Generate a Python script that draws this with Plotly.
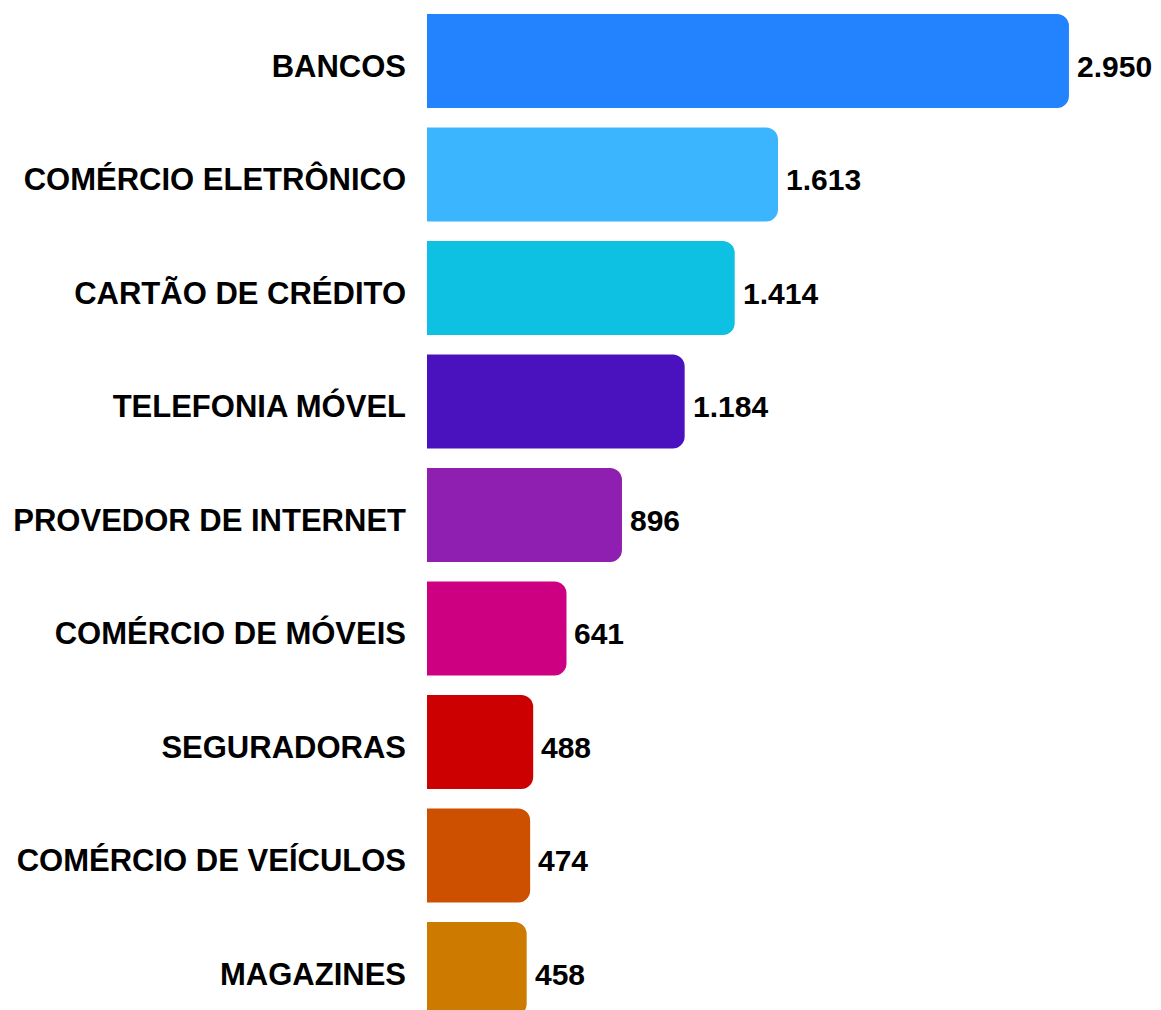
import plotly.graph_objects as go

# Dados
categorias = ['BANCOS', 'COMÉRCIO ELETRÔNICO', 'CARTÃO DE CRÉDITO', 'TELEFONIA MÓVEL',
              'PROVEDOR DE INTERNET', 'COMÉRCIO DE MÓVEIS', 'SEGURADORAS',
              'COMÉRCIO DE VEÍCULOS', 'MAGAZINES']
valores = [2950, 1613, 1414, 1184, 896, 641, 488, 474, 458]
cores = ['#2383FE', '#3BB6FE', '#0EC0E2', '#4A12BF', '#8E1FB0',
         '#CC0080', '#CC0000', '#CC5000', '#CC7A00']

fonte = dict(family='Liberation Sans, Arial', size=31, color='#000000', weight='bold')
fonte_valor = dict(family='Liberation Sans, Arial', size=30, color='#000000', weight='bold')

fig = go.Figure()
fig.add_trace(go.Bar(
    x=valores,
    y=categorias,
    orientation='h',
    marker=dict(color=cores, line=dict(width=0)),
    hoverinfo='skip',
))

# Rótulos de valor (separador de milhar com ponto)
for cat, v in zip(categorias, valores):
    fig.add_annotation(
        x=v, y=cat,
        text=f"{v:,}".replace(",", "."),
        showarrow=False,
        xanchor='left',
        xshift=6,
        yshift=-5,
        font=fonte_valor,
    )

# Configuração do layout (a página tem margem de 8px no body)
fig.update_layout(
    width=1153,
    height=1002,
    margin=dict(l=419, r=0, t=0, b=0),
    paper_bgcolor='white',
    plot_bgcolor='white',
    bargap=0.172,
    barcornerradius=12,
    showlegend=False,
    font=dict(family='Liberation Sans, Arial', size=31, color='#000000'),
    xaxis=dict(range=[0, 3373], visible=False, fixedrange=True),
    yaxis=dict(
        range=[8.361, -0.467],
        showgrid=False,
        showline=False,
        zeroline=False,
        ticks='',
        ticklabelstandoff=20,
        ticklabelshift=-5,
        tickfont=fonte,
    ),
)

fig.write_html("out.html")
